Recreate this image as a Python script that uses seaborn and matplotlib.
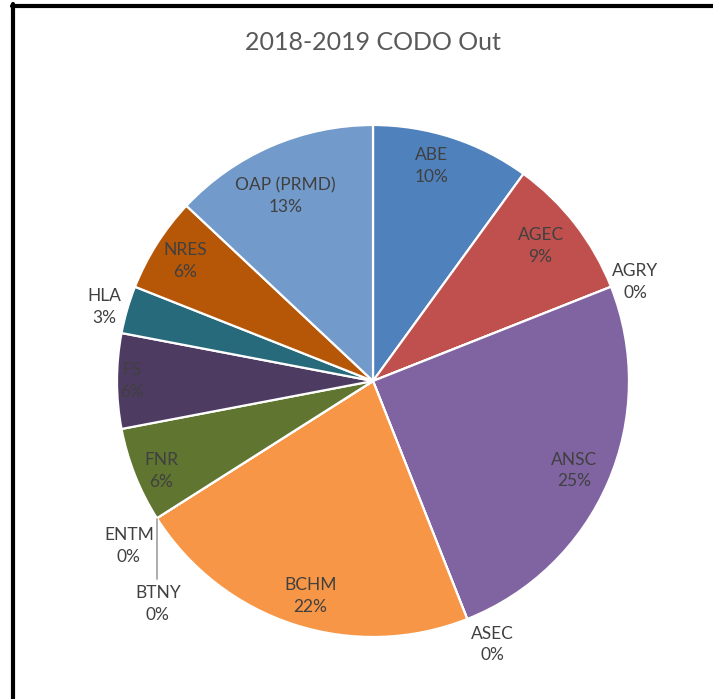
import numpy as np
import matplotlib
matplotlib.use("Agg")
import matplotlib.pyplot as plt
from matplotlib.lines import Line2D
import seaborn as sns

# ---- data ----
categories = ["ABE", "AGEC", "AGRY", "ANSC", "ASEC", "BCHM", "BTNY", "ENTM",
              "FNR", "FS", "HLA", "NRES", "OAP (PRMD)"]
percent = [10, 9, 0, 25, 0, 22, 0, 0, 6, 6, 3, 6, 13]
title = "2018-2019 CODO Out"

# ---- style ----
colors = ["#4F81BD", "#C0504D", "#9BBB59", "#8064A2", "#4BACC6", "#F79646",
          "#2C4D75", "#772C2A", "#5F7530", "#4D3B62", "#276A7C", "#B65708",
          "#729ACA"]
# label placement: (radius as fraction of pie radius, angle offset in degrees clockwise)
label_place = {
    "ABE": (0.87, -2.7), "AGEC": (0.84, -1.0), "AGRY": (1.094, 0.9),
    "ANSC": (0.86, 0.6), "ASEC": (1.13, -2.8), "BCHM": (0.875, -1.7),
    "BTNY": (1.21, -13.6), "ENTM": (1.15, -1.6), "FNR": (0.90, -1.4),
    "FS": (0.94, 0.0), "HLA": (1.09, -0.8), "NRES": (0.87, 0.1),
    "OAP (PRMD)": (0.80, -2.0),
}

sns.set_theme(style="white")
plt.rcParams["font.family"] = ["Lato", "DejaVu Sans"]
palette = sns.color_palette(colors)

W, H = 713, 699
fig = plt.figure(figsize=(W / 100, H / 100), dpi=100)
cx, cy, R = 373, 381, 256
ax = fig.add_axes([(cx - R) / W, (H - cy - R) / H, 2 * R / W, 2 * R / H])

wedges, _ = ax.pie(percent, colors=palette, startangle=90, counterclock=False,
                   radius=1.0,
                   wedgeprops=dict(edgecolor="white", linewidth=1.6))
ax.set_xlim(-1, 1)
ax.set_ylim(-1, 1)
ax.set_aspect("equal")
ax.axis("off")

txt_color = "#404040"
for w, name, p in zip(wedges, categories, percent):
    mid = (w.theta1 + w.theta2) / 2.0  # matplotlib angle (ccw from +x)
    r, off = label_place[name]
    ang = np.deg2rad(mid - off)
    x, y = r * np.cos(ang), r * np.sin(ang)
    ax.text(x, y, f"{name}\n{p}%", ha="center", va="center", fontsize=12.5,
            color=txt_color, linespacing=1.45)
    if name == "BTNY":
        rim = np.deg2rad(mid)
        x0, y0 = np.cos(rim), np.sin(rim)
        ax.plot([x0, x0], [y0 - 0.005, y + 0.098], color="#A6A6A6", lw=1.3,
                clip_on=False)

fig.text(373 / W, 1 - 42 / H, title, ha="center", va="center", fontsize=18,
         color="#595959")

# chart border
lw = 3.0
fig.add_artist(Line2D([13 / W, 13 / W], [0, 1 - 4 / H], color="black", lw=lw,
                      transform=fig.transFigure))
fig.add_artist(Line2D([11.5 / W, 1], [1 - 5.5 / H, 1 - 5.5 / H], color="black",
                      lw=lw, transform=fig.transFigure))

fig.savefig("out.png", dpi=100, facecolor="white")
